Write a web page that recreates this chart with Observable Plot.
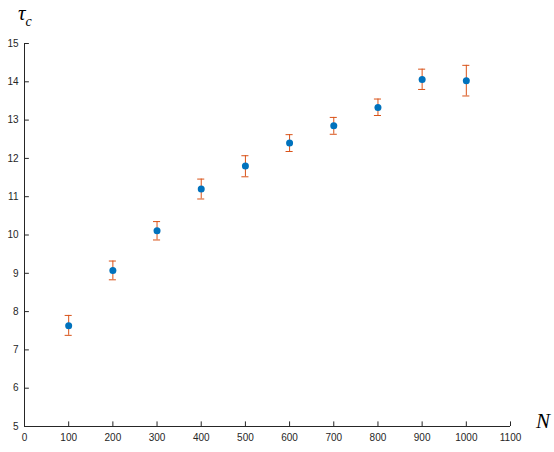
<!DOCTYPE html>
<html><head><meta charset="utf-8">
<script src="https://cdn.jsdelivr.net/npm/d3@7"></script>
<script src="https://cdn.jsdelivr.net/npm/@observablehq/plot@0.6"></script>
<style>
body{margin:0;background:#fff;}
#chart{position:relative;width:554px;height:452px;}
.lab{position:absolute;font-family:"Liberation Serif","DejaVu Serif",serif;font-style:italic;color:#000;line-height:1;}
</style>
</head><body>
<div id="chart"></div>
<script>
const N = [100, 200, 300, 400, 500, 600, 700, 800, 900, 1000];
const tau = [7.63, 9.07, 10.11, 11.20, 11.80, 12.40, 12.85, 13.33, 14.06, 14.03];
const lo = [7.38, 8.83, 9.87, 10.94, 11.52, 12.18, 12.63, 13.12, 13.80, 13.63];
const hi = [7.90, 9.32, 10.35, 11.46, 12.07, 12.62, 13.07, 13.55, 14.33, 14.43];
const xTicks = [0, 100, 200, 300, 400, 500, 600, 700, 800, 900, 1000, 1100];
const yTicks = [5, 6, 7, 8, 9, 10, 11, 12, 13, 14, 15];

const data = N.map((n, i) => ({n, tau: tau[i], lo: lo[i], hi: hi[i]}));
const axisColor = "#262626";
const err = "#D95319";
const dotC = "#0072BD";
const capHalf = 8; // in x data units

const plot = Plot.plot({
  width: 554, height: 452,
  marginLeft: 24, marginRight: 44, marginTop: 43, marginBottom: 26,
  style: {fontFamily: "Liberation Sans, Arial, sans-serif", fontSize: "10px", color: axisColor, background: "#fff"},
  x: {domain: [0, 1100]},
  y: {domain: [5, 15]},
  marks: [
    Plot.axisX({ticks: xTicks, tickSize: 0, tickPadding: 7, label: null, tickFormat: d => String(d), color: axisColor}),
    Plot.axisY({ticks: yTicks, tickSize: 0, tickPadding: 6, label: null, color: axisColor}),
    Plot.ruleY([5], {stroke: axisColor, strokeWidth: 1}),
    Plot.ruleX([0], {stroke: axisColor, strokeWidth: 1}),
    Plot.ruleX(xTicks, {x: d => d, y1: 5, y2: 5 + 0.12, stroke: axisColor}),
    Plot.ruleY(yTicks, {y: d => d, x1: 0, x2: 11, stroke: axisColor}),
    Plot.ruleX(data, {x: "n", y1: "lo", y2: "hi", stroke: err, strokeWidth: 1}),
    Plot.ruleY(data, {y: "lo", x1: d => d.n - capHalf, x2: d => d.n + capHalf, stroke: err, strokeWidth: 1}),
    Plot.ruleY(data, {y: "hi", x1: d => d.n - capHalf, x2: d => d.n + capHalf, stroke: err, strokeWidth: 1}),
    Plot.dot(data, {x: "n", y: "tau", r: 3.5, fill: dotC, stroke: "none"})
  ]
});
const c = document.getElementById("chart");
c.appendChild(plot);
const yl = document.createElement("div");
yl.className = "lab";
yl.style.left = "18px"; yl.style.top = "3px"; yl.style.fontSize = "21px";
yl.innerHTML = "τ<sub style='font-size:14px;position:relative;top:1px'>c</sub>";
c.appendChild(yl);
const xl = document.createElement("div");
xl.className = "lab";
xl.style.left = "536px"; xl.style.top = "411px"; xl.style.fontSize = "21px";
xl.textContent = "N";
c.appendChild(xl);
</script>
</body></html>
